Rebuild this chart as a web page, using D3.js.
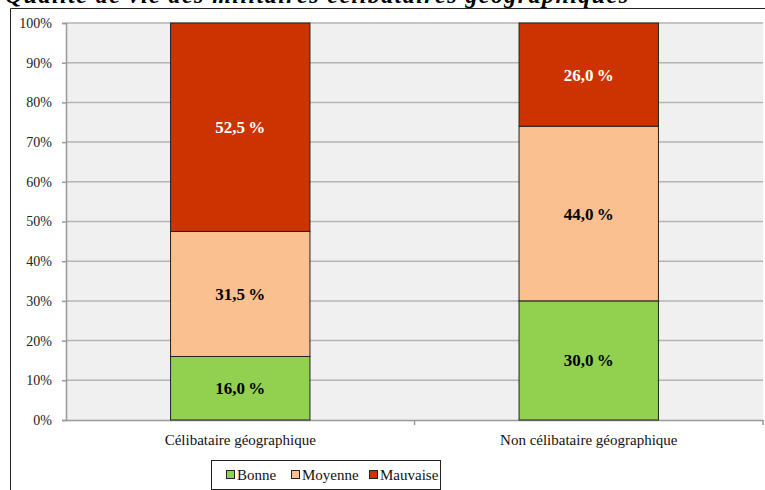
<!DOCTYPE html>
<html>
<head>
<meta charset="utf-8">
<script src="https://cdn.jsdelivr.net/npm/d3@7"></script>
<style>
  body { margin: 0; background: #fff; }
</style>
</head>
<body>
<div id="chart"></div>
<script>
// chart values
var categories = ["Célibataire géographique", "Non célibataire géographique"];
var seriesNames = ["Bonne", "Moyenne", "Mauvaise"];
var bonne = [16.0, 30.0];
var moyenne = [31.5, 44.0];
var mauvaise = [52.5, 26.0];
var yTicks = [0, 10, 20, 30, 40, 50, 60, 70, 80, 90, 100];

var colors = ["#92d050", "#fac090", "#cc3300"];
var labelColors = ["#000", "#000", "#fff"];
var serif = "'Liberation Serif', 'Times New Roman', serif";

var svgWidth = 765;
var svgHeight = 490;

var margin = { top: 23, right: 2, bottom: 70, left: 66 };
var width = svgWidth - margin.left - margin.right;
var height = svgHeight - margin.top - margin.bottom;

var svg = d3.select("#chart")
  .append("svg")
  .attr("width", svgWidth)
  .attr("height", svgHeight)
  .attr("font-family", serif);

// outer frame (cut at right and bottom)
svg.append("path")
  .attr("d", "M10.5," + (svgHeight + 2) + " V8.5 H" + (svgWidth + 2))
  .attr("fill", "none")
  .attr("stroke", "#222")
  .attr("stroke-width", 1);

// title, mostly cut off at top
svg.append("text")
  .attr("x", 5)
  .attr("y", 3)
  .attr("font-family", serif)
  .attr("font-size", "24px")
  .attr("font-weight", "bold")
  .attr("font-style", "italic")
  .attr("textLength", 623)
  .text("Qualité de vie des militaires célibataires géographiques");

var chartGroup = svg.append("g")
  .attr("transform", `translate(${margin.left}, ${margin.top})`);

// build stacked data
var table = categories.map(function(c, i) {
  return { cat: c, Bonne: bonne[i], Moyenne: moyenne[i], Mauvaise: mauvaise[i] };
});
var stacked = d3.stack().keys(seriesNames)(table);

var xScale = d3.scaleBand()
  .domain(categories)
  .range([0, width]);

var yScale = d3.scaleLinear()
  .domain([0, 100])
  .range([height, 0]);

// plot background
chartGroup.append("rect")
  .attr("x", 0)
  .attr("y", 0)
  .attr("width", width)
  .attr("height", height)
  .attr("fill", "#f0f0f0");

// gridlines
chartGroup.selectAll(".grid")
  .data(yTicks.slice(1))
  .enter()
  .append("line")
  .attr("x1", 0)
  .attr("x2", width)
  .attr("y1", d => yScale(d))
  .attr("y2", d => yScale(d))
  .attr("stroke", "#b4b4b4")
  .attr("stroke-width", 1.5);

// y axis
var leftAxis = d3.axisLeft(yScale)
  .tickValues(yTicks)
  .tickSize(4)
  .tickPadding(10)
  .tickFormat(d => d + "%");

var yAxisG = chartGroup.append("g").call(leftAxis)
  .attr("font-family", serif)
  .attr("font-size", 14);
yAxisG.select(".domain").attr("stroke", "#999").attr("stroke-width", 1.5);
yAxisG.selectAll(".tick line").attr("stroke", "#999").attr("stroke-width", 1.5);
yAxisG.selectAll(".tick text").attr("fill", "#222");

// x axis
var bottomAxis = d3.axisBottom(xScale)
  .tickSize(0)
  .tickPadding(14);

var xAxisG = chartGroup.append("g")
  .attr("transform", `translate(0, ${height})`)
  .call(bottomAxis)
  .attr("font-family", serif)
  .attr("font-size", 15);
xAxisG.select(".domain").attr("stroke", "#999").attr("stroke-width", 1.5);
xAxisG.selectAll(".tick text").attr("fill", "#111");

// category separator ticks
chartGroup.selectAll(".xsep")
  .data([1, 2])
  .enter()
  .append("line")
  .attr("x1", d => xScale.step() * d)
  .attr("x2", d => xScale.step() * d)
  .attr("y1", height)
  .attr("y2", height + 5)
  .attr("stroke", "#999")
  .attr("stroke-width", 1.5);

// bars
var barWidth = xScale.bandwidth() * 0.4;

var layers = chartGroup.selectAll(".layer")
  .data(stacked)
  .enter()
  .append("g")
  .attr("class", "layer");

layers.selectAll("rect")
  .data((d, i) => d.map(p => ({ p: p, s: i })))
  .enter()
  .append("rect")
  .attr("x", d => xScale(d.p.data.cat) + (xScale.bandwidth() - barWidth) / 2)
  .attr("y", d => yScale(d.p[1]))
  .attr("width", barWidth)
  .attr("height", d => yScale(d.p[0]) - yScale(d.p[1]))
  .attr("fill", d => colors[d.s])
  .attr("stroke", "#222")
  .attr("stroke-width", 1);

// value labels
var fmt = d => d.toFixed(1).replace(".", ",") + "\u2009%";

layers.selectAll("text")
  .data((d, i) => d.map(p => ({ p: p, s: i })))
  .enter()
  .append("text")
  .attr("x", d => xScale(d.p.data.cat) + xScale.bandwidth() / 2)
  .attr("y", d => (yScale(d.p[0]) + yScale(d.p[1])) / 2)
  .attr("dy", "0.35em")
  .attr("text-anchor", "middle")
  .attr("font-family", serif)
  .attr("font-size", "17px")
  .attr("font-weight", "bold")
  .attr("fill", d => labelColors[d.s])
  .text(d => fmt(d.p[1] - d.p[0]));

// legend
var legend = svg.append("g")
  .attr("transform", "translate(211, 460)");

legend.append("rect")
  .attr("x", 0.5)
  .attr("y", 0.5)
  .attr("width", 229)
  .attr("height", 29)
  .attr("fill", "#fff")
  .attr("stroke", "#222");

var legendX = [15, 80, 158];

var items = legend.selectAll(".item")
  .data(seriesNames)
  .enter()
  .append("g")
  .attr("transform", (d, i) => `translate(${legendX[i]}, 0)`);

items.append("rect")
  .attr("x", 0.5)
  .attr("y", 10.5)
  .attr("width", 8)
  .attr("height", 8)
  .attr("fill", (d, i) => colors[i])
  .attr("stroke", "#222");

items.append("text")
  .attr("x", 11)
  .attr("y", 20)
  .attr("font-family", serif)
  .attr("font-size", "15px")
  .attr("fill", "#111")
  .text(d => d);
</script>
</body>
</html>
